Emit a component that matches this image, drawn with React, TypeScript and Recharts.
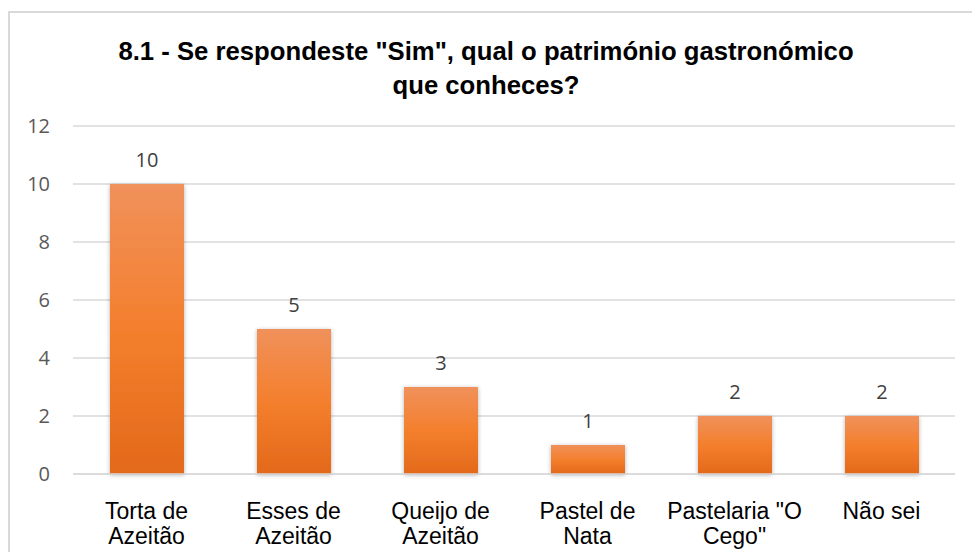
import React from "react";
import { Bar, BarChart, CartesianGrid, LabelList, XAxis, YAxis } from "recharts";

const categories = [
  "Torta de\nAzeitão",
  "Esses de\nAzeitão",
  "Queijo de\nAzeitão",
  "Pastel de\nNata",
  'Pastelaria "O\nCego"',
  "Não sei",
];
const counts = [10, 5, 3, 1, 2, 2];
const yTicks = [0, 2, 4, 6, 8, 10, 12];
const titleLines = ['8.1 - Se respondeste "Sim", qual o património gastronómico', "que conheces?"];

const data = categories.map((name, i) => ({ name, value: counts[i] }));

function CategoryTick({ x, y, payload }: any) {
  const lines = String(payload.value).split("\n");
  return (
    <text
      x={x}
      y={y}
      textAnchor="middle"
      fill="#000"
      fontFamily="'Liberation Sans', Arial, sans-serif"
      fontSize={23}
    >
      {lines.map((l, i) => (
        <tspan key={i} x={x} dy={i === 0 ? 37 : 25}>
          {l}
        </tspan>
      ))}
    </text>
  );
}

export default function App() {
  return (
    <div
      style={{
        position: "absolute",
        left: 0,
        top: 0,
        width: 972,
        height: 552,
        background: "#fff",
        overflow: "hidden",
      }}
    >
      <div
        style={{
          position: "absolute",
          left: 8,
          top: 11,
          width: 1000,
          height: 600,
          borderLeft: "2px solid #d9d9d9",
          borderTop: "2px solid #d9d9d9",
        }}
      />
      <div
        style={{
          position: "absolute",
          left: 0,
          top: 34,
          width: 972,
          textAlign: "center",
          fontFamily: "'Liberation Sans', Arial, sans-serif",
          fontWeight: "bold",
          fontSize: 25.7,
          lineHeight: "34px",
          color: "#000",
        }}
      >
        {titleLines.map((t) => (
          <div key={t}>{t}</div>
        ))}
      </div>
      <div style={{ position: "absolute", left: 0, top: 0 }}>
        <BarChart
          width={972}
          height={552}
          data={data}
          margin={{ top: 126, right: 17, bottom: 0, left: 0 }}
        >
          <defs>
            <linearGradient id="barFill" x1="0" y1="0" x2="0" y2="1">
              <stop offset="0%" stopColor="#f0915b" />
              <stop offset="50%" stopColor="#f47f2d" />
              <stop offset="100%" stopColor="#e3691a" />
            </linearGradient>
            <filter id="barShadow" x="-20%" y="-20%" width="140%" height="140%">
              <feDropShadow dx="0" dy="1" stdDeviation="2" floodColor="#000" floodOpacity="0.3" />
            </filter>
          </defs>
          <CartesianGrid vertical={false} stroke="#d9d9d9" strokeWidth={1.5} />
          <XAxis
            dataKey="name"
            interval={0}
            tickLine={false}
            axisLine={{ stroke: "#d9d9d9", strokeWidth: 1.5 }}
            tick={<CategoryTick />}
            height={78}
          />
          <YAxis
            width={73}
            domain={[0, 12]}
            ticks={yTicks}
            axisLine={false}
            tickLine={false}
            tickSize={0}
            tickMargin={23}
            tick={{
              fill: "#595959",
              fontSize: 20,
              fontFamily: "'Open Sans', sans-serif",
            }}
          />
          <Bar
            dataKey="value"
            barSize={74}
            fill="url(#barFill)"
            filter="url(#barShadow)"
            isAnimationActive={false}
          >
            <LabelList
              dataKey="value"
              position="top"
              offset={17}
              fill="#404040"
              fontSize={20}
              fontFamily="'Open Sans', sans-serif"
            />
          </Bar>
        </BarChart>
      </div>
    </div>
  );
}
